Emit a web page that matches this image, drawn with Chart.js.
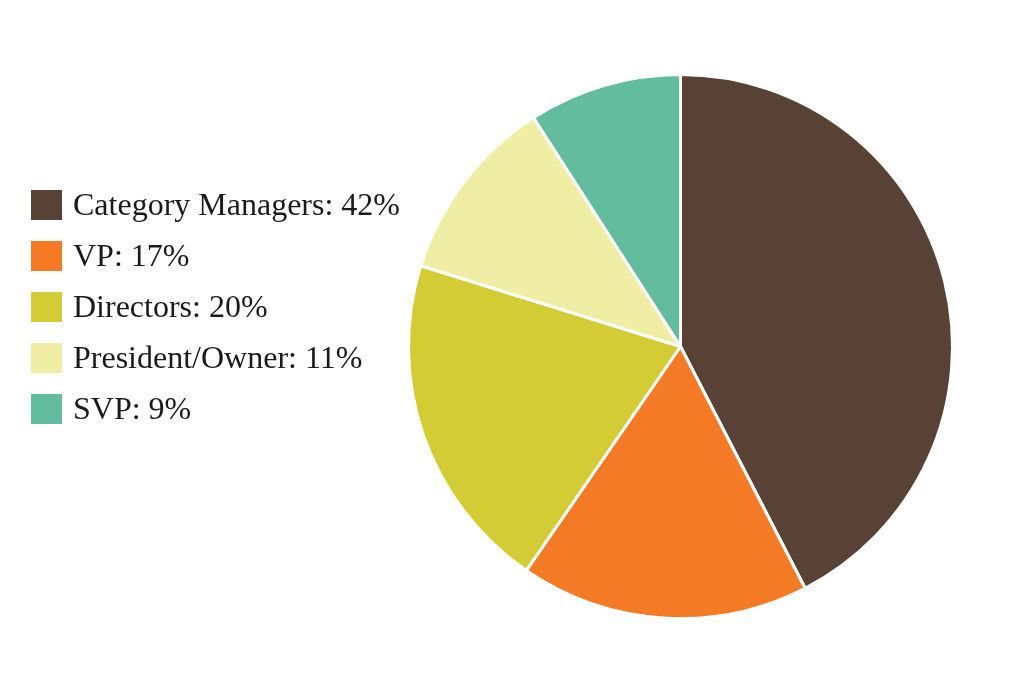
<!DOCTYPE html>
<html>
<head>
<meta charset="utf-8">
<script src="https://cdn.jsdelivr.net/npm/chart.js@4.4.0/dist/chart.umd.min.js"></script>
<style>
    body { margin: 0; background: #fff; }
    #wrap { position: relative; width: 1024px; height: 683px; }
    #legend { position: absolute; left: 31px; top: 179px; font-family: "Liberation Serif", serif; font-size: 32px; color: #1a1a1a; }
    .item { display: flex; align-items: center; height: 51px; }
    .box { width: 31px; height: 30px; margin-right: 11px; }
</style>
</head>
<body>
<div id="wrap">
    <canvas id="pieChart" width="1024" height="683"></canvas>
    <div id="legend"></div>
</div>
<script>
const categories = ['Category Managers', 'VP', 'Directors', 'President/Owner', 'SVP'];
const shares = [42, 17, 20, 11, 9];
const colors = ['#574235', '#F47A26', '#D3CC34', '#F0EDA5', '#62BC9D'];

// legend built from the same arrays
const legend = document.getElementById('legend');
categories.forEach((name, i) => {
    const row = document.createElement('div');
    row.className = 'item';
    row.innerHTML = '<span class="box" style="background:' + colors[i] + '"></span>' + name + ': ' + shares[i] + '%';
    legend.appendChild(row);
});

const ctx = document.getElementById('pieChart').getContext('2d');
new Chart(ctx, {
    type: 'pie',
    data: {
        labels: categories,
        datasets: [{
            data: shares,
            backgroundColor: colors,
            borderColor: '#ffffff',
            borderWidth: 3
        }]
    },
    options: {
        responsive: false,
        animation: false,
        layout: { padding: { left: 407, right: 70, top: 73, bottom: 63 } },
        plugins: {
            legend: { display: false },
            tooltip: { enabled: false }
        }
    }
});
</script>
</body>
</html>
